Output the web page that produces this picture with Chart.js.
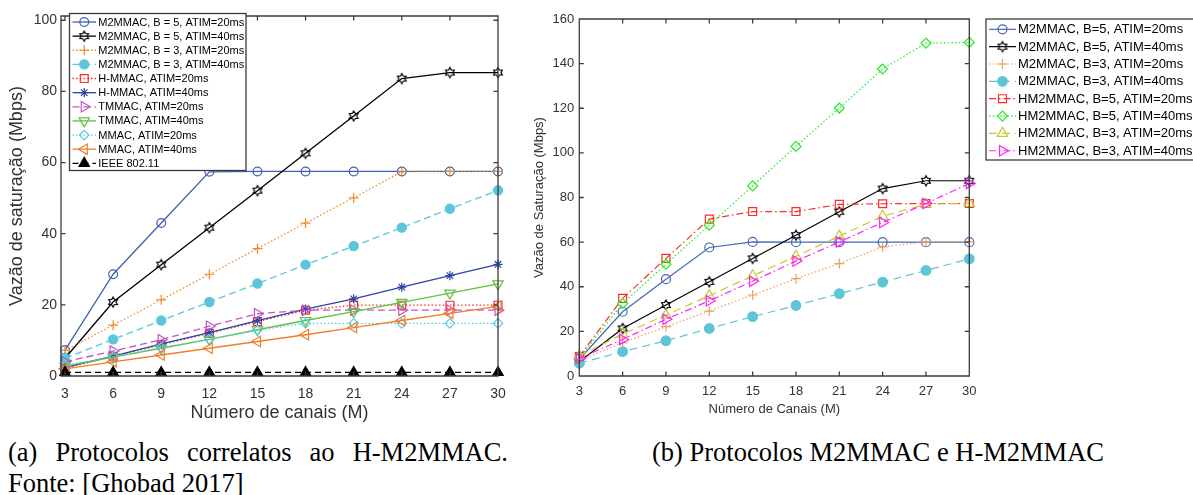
<!DOCTYPE html>
<html><head><meta charset="utf-8">
<script src="https://cdn.jsdelivr.net/npm/chart.js@4/dist/chart.umd.min.js"></script>
<style>
html,body{margin:0;padding:0;background:#fff;}
body{width:1193px;height:495px;overflow:hidden;position:relative;}
#ca{position:absolute;left:0;top:0;}
#cb{position:absolute;left:530px;top:0;}
.cap{position:absolute;font-family:"Liberation Serif","Times New Roman",serif;font-size:26.5px;line-height:31px;color:#000;white-space:nowrap;}
#capA1{left:8px;top:437px;width:500px;text-align:justify;text-align-last:justify;white-space:normal;}
#capA2{left:8px;top:468px;}
#capB{left:652px;top:437px;}
</style></head><body>
<canvas id="ca" width="530" height="430"></canvas>
<canvas id="cb" width="663" height="430"></canvas>
<div class="cap" id="capA1">(a) Protocolos correlatos ao H-M2MMAC.</div>
<div class="cap" id="capA2">Fonte: [Ghobad 2017]</div>
<div class="cap" id="capB">(b) Protocolos M2MMAC e H-M2MMAC</div>
<script>
// ---------- data ----------
const channels = [3, 6, 9, 12, 15, 18, 21, 24, 27, 30];
const xTickLabels = [3, 6, 9, 12, 15, 18, 21, 24, 27, 30];
const yTicksA = [0, 20, 40, 60, 80, 100];
const yTicksB = [0, 20, 40, 60, 80, 100, 120, 140, 160];

const labelsA = [
  'M2MMAC, B = 5, ATIM=20ms',
  'M2MMAC, B = 5, ATIM=40ms',
  'M2MMAC, B = 3, ATIM=20ms',
  'M2MMAC, B = 3, ATIM=40ms',
  'H-MMAC, ATIM=20ms',
  'H-MMAC, ATIM=40ms',
  'TMMAC, ATIM=20ms',
  'TMMAC, ATIM=40ms',
  'MMAC, ATIM=20ms',
  'MMAC, ATIM=40ms',
  'IEEE 802.11'
];
const aM2b5t20 = [7.3, 28.6, 43.0, 57.4, 57.5, 57.5, 57.5, 57.5, 57.5, 57.5];
const aM2b5t40 = [5.0, 20.8, 31.3, 41.7, 52.1, 62.6, 73.1, 83.6, 85.3, 85.3];
const aM2b3t20 = [7.2, 14.3, 21.4, 28.6, 35.8, 43.0, 50.1, 57.4, 57.5, 57.5];
const aM2b3t40 = [5.0, 10.3, 15.6, 20.8, 26.0, 31.3, 36.5, 41.7, 47.0, 52.2];
const aHt20    = [2.2, 5.5, 8.8, 12.0, 15.3, 18.5, 19.9, 19.9, 19.9, 19.9];
const aHt40    = [2.4, 5.6, 9.0, 12.2, 15.6, 18.8, 21.7, 25.0, 28.2, 31.4];
const aTt20    = [4.0, 7.0, 10.2, 14.0, 17.5, 18.5, 18.5, 18.5, 18.5, 18.5];
const aTt40    = [2.8, 5.3, 7.8, 10.3, 13.0, 15.6, 18.1, 20.7, 23.3, 25.9];
const aMt20    = [3.0, 5.4, 8.0, 10.3, 12.9, 14.8, 14.8, 14.8, 14.8, 14.8];
const aMt40    = [2.0, 4.0, 5.9, 7.8, 9.7, 11.6, 13.6, 15.6, 17.6, 19.6];
const aIEEE    = [1.0, 1.0, 1.0, 1.0, 1.0, 1.0, 1.0, 1.0, 1.0, 1.0];

const labelsB = [
  'M2MMAC, B=5, ATIM=20ms',
  'M2MMAC, B=5, ATIM=40ms',
  'M2MMAC, B=3, ATIM=20ms',
  'M2MMAC, B=3, ATIM=40ms',
  'HM2MMAC, B=5, ATIM=20ms',
  'HM2MMAC, B=5, ATIM=40ms',
  'HM2MMAC, B=3, ATIM=20ms',
  'HM2MMAC, B=3, ATIM=40ms'
];
const bM2b5t20 = [7.5, 28.8, 43.4, 57.6, 60.1, 60.0, 60.0, 60.0, 60.0, 60.0];
const bM2b5t40 = [6.4, 21.3, 31.8, 42.2, 52.7, 63.1, 73.6, 84.0, 87.5, 87.5];
const bM2b3t20 = [7.0, 14.9, 22.1, 29.1, 36.3, 43.6, 50.4, 57.9, 60.1, 60.1];
const bM2b3t40 = [5.7, 10.9, 15.8, 21.3, 26.6, 31.6, 36.9, 42.1, 47.3, 52.5];
const bH5t20   = [8.7, 34.8, 52.7, 70.3, 73.7, 73.7, 76.9, 77.2, 77.3, 77.3];
const bH5t40   = [8.0, 32.5, 50.1, 67.6, 85.2, 102.9, 120.1, 137.6, 149.2, 149.5];
const bH3t20   = [9.0, 18.8, 27.3, 36.0, 44.9, 53.7, 62.7, 71.6, 77.0, 77.3];
const bH3t40   = [7.9, 16.4, 25.4, 33.7, 42.5, 51.5, 60.1, 68.8, 77.3, 86.3];

// ---------- helpers ----------
Chart.defaults.font.family = "'Liberation Sans', Arial, Helvetica, sans-serif";
Chart.defaults.color = '#262626';

function hexagram(color, R) {
  const s = Math.ceil(2 * R + 4);
  const cv = document.createElement('canvas');
  cv.width = s; cv.height = s;
  const c = cv.getContext('2d');
  const cx = s / 2, cy = s / 2, ri = R / Math.sqrt(3);
  c.beginPath();
  for (let k = 0; k < 12; k++) {
    const a = k * Math.PI / 6 - Math.PI / 2;
    const rr = (k % 2 === 0) ? R : ri;
    const px = cx + rr * Math.cos(a), py = cy + rr * Math.sin(a);
    if (k === 0) c.moveTo(px, py); else c.lineTo(px, py);
  }
  c.closePath();
  c.strokeStyle = color; c.lineWidth = 1.2; c.stroke();
  return cv;
}

function pts(values) { return channels.map((x, i) => ({x: x, y: values[i]})); }

function ds(label, values, color, dash, style, r, rot, fill, lw, n, i) {
  return {
    label: label, data: pts(values),
    borderColor: color, borderWidth: lw, borderDash: dash,
    pointStyle: style, pointRadius: r, pointHoverRadius: r, pointRotation: rot || 0,
    pointBorderColor: color, pointBackgroundColor: fill || 'rgba(0,0,0,0)',
    pointBorderWidth: 1.2, tension: 0, fill: false, clip: false, order: n - i
  };
}

function drawMarker(c, d, x, y) {
  const st = d.pointStyle, r = d.pointRadius, rot = (d.pointRotation || 0) * Math.PI / 180;
  c.save();
  c.setLineDash([]);
  if (typeof st !== 'string') { c.drawImage(st, x - st.width / 2, y - st.height / 2); c.restore(); return; }
  c.strokeStyle = d.pointBorderColor; c.fillStyle = d.pointBackgroundColor; c.lineWidth = d.pointBorderWidth;
  c.beginPath();
  if (st === 'circle') c.arc(x, y, r, 0, 2 * Math.PI);
  else if (st === 'rect') { const s = r * Math.SQRT1_2; c.rect(x - s, y - s, 2 * s, 2 * s); }
  else if (st === 'rectRot') { c.moveTo(x - r, y); c.lineTo(x, y - r); c.lineTo(x + r, y); c.lineTo(x, y + r); c.closePath(); }
  else if (st === 'triangle') {
    let a = rot;
    c.moveTo(x + Math.sin(a) * r, y - Math.cos(a) * r);
    a += 2 * Math.PI / 3; c.lineTo(x + Math.sin(a) * r, y - Math.cos(a) * r);
    a += 2 * Math.PI / 3; c.lineTo(x + Math.sin(a) * r, y - Math.cos(a) * r);
    c.closePath();
  } else if (st === 'cross') { c.moveTo(x - r, y); c.lineTo(x + r, y); c.moveTo(x, y - r); c.lineTo(x, y + r); }
  else if (st === 'star') {
    c.moveTo(x - r, y); c.lineTo(x + r, y); c.moveTo(x, y - r); c.lineTo(x, y + r);
    const q = r * Math.SQRT1_2;
    c.moveTo(x - q, y - q); c.lineTo(x + q, y + q); c.moveTo(x + q, y - q); c.lineTo(x - q, y + q);
  }
  if (st !== 'cross' && st !== 'star') c.fill();
  c.stroke();
  c.restore();
}

const framePlugin = {
  id: 'frame',
  afterDatasetsDraw(chart, args, o) {
    const c = chart.ctx, a = chart.chartArea, xs = chart.scales.x, ys = chart.scales.y;
    c.save();
    c.strokeStyle = '#3c3c3c'; c.lineWidth = 1.3; c.setLineDash([]);
    c.beginPath();
    c.rect(a.left, a.top, a.right - a.left, a.bottom - a.top);
    const t = o.tick;
    xs.ticks.forEach(tk => {
      const px = xs.getPixelForValue(tk.value);
      c.moveTo(px, a.bottom); c.lineTo(px, a.bottom - t);
      c.moveTo(px, a.top); c.lineTo(px, a.top + t);
    });
    ys.ticks.forEach(tk => {
      const py = ys.getPixelForValue(tk.value);
      c.moveTo(a.left, py); c.lineTo(a.left + t, py);
      c.moveTo(a.right, py); c.lineTo(a.right - t, py);
    });
    c.stroke();
    c.restore();
  }
};

const legendPlugin = {
  id: 'boxLegend',
  afterDraw(chart, args, L) {
    const c = chart.ctx;
    c.save();
    c.fillStyle = '#fff';
    c.fillRect(L.x, L.y, L.w, L.h);
    c.strokeStyle = '#3c3c3c'; c.lineWidth = 1.3; c.setLineDash([]);
    c.strokeRect(L.x, L.y, L.w, L.h);
    chart.data.datasets.forEach((d, i) => {
      const y = L.row0 + i * L.rowH;
      c.save();
      c.strokeStyle = d.borderColor; c.lineWidth = d.borderWidth; c.setLineDash(d.borderDash || []);
      c.beginPath(); c.moveTo(L.lx1, y); c.lineTo(L.lx2, y); c.stroke();
      c.restore();
      drawMarker(c, d, (L.lx1 + L.lx2) / 2, y);
      c.fillStyle = '#000'; c.font = L.font; c.textBaseline = 'middle'; c.textAlign = 'left';
      c.fillText(d.label, L.tx, y + 0.5);
    });
    c.restore();
  }
};

function fixedTicks(list) { return function (scale) { scale.ticks = list.map(v => ({value: v})); }; }

// ---------- chart (a) ----------
const nA = 11;
const dotted = [1.5, 2.2], dashed = [7, 4], dashdot = [7, 3, 1.5, 3];
const datasetsA = [
  ds(labelsA[0], aM2b5t20, '#3f5fb0', [], 'circle', 4.4, 0, null, 1.3, nA, 0),
  ds(labelsA[1], aM2b5t40, '#000000', [], hexagram('#000000', 5.0), 5, 0, null, 1.3, nA, 1),
  ds(labelsA[2], aM2b3t20, '#f08a2a', dotted, 'cross', 5, 0, null, 1.3, nA, 2),
  ds(labelsA[3], aM2b3t40, '#5bc6da', dashed, 'circle', 4.6, 0, '#5bc6da', 1.3, nA, 3),
  ds(labelsA[4], aHt20, '#ff2a2a', dotted, 'rect', 5.6, 0, null, 1.3, nA, 4),
  ds(labelsA[5], aHt40, '#2a44a8', [], 'star', 4.6, 0, null, 1.3, nA, 5),
  ds(labelsA[6], aTt20, '#c455c4', dashed, 'triangle', 6, 90, null, 1.3, nA, 6),
  ds(labelsA[7], aTt40, '#5cc43c', [], 'triangle', 6, 180, null, 1.3, nA, 7),
  ds(labelsA[8], aMt20, '#5ccae6', dotted, 'rectRot', 4.8, 0, null, 1.3, nA, 8),
  ds(labelsA[9], aMt40, '#f07f2a', [], 'triangle', 6, 270, null, 1.3, nA, 9),
  ds(labelsA[10], aIEEE, '#000000', [6, 4], 'triangle', 6, 0, '#000000', 1.3, nA, 10)
];

new Chart(document.getElementById('ca'), {
  type: 'line',
  data: {datasets: datasetsA},
  options: {
    responsive: false, animation: false, events: [],
    layout: {padding: {left: 0, right: 32, top: 16, bottom: 0}},
    plugins: {legend: {display: false}, tooltip: {enabled: false},
      frame: {tick: 4.5},
      boxLegend: {x: 69.5, y: 13.5, w: 176.5, h: 157, row0: 22, rowH: 14.13, lx1: 72.5, lx2: 96, tx: 98.3,
        font: "11px 'Liberation Sans', Arial, sans-serif"}},
    scales: {
      x: {type: 'linear', min: 2.75, max: 30,
        afterBuildTicks: fixedTicks(xTickLabels),
        afterFit(s) { s.height = 54; },
        grid: {display: false, drawTicks: false}, border: {display: false},
        ticks: {padding: 10, font: {size: 14}, color: '#333', maxRotation: 0, autoSkip: false},
        title: {display: true, text: 'Número de canais (M)', font: {size: 18}, color: '#333', padding: {top: 0, bottom: 6}}},
      y: {type: 'linear', min: 0, max: 101.2,
        afterBuildTicks: fixedTicks(yTicksA),
        afterFit(s) { s.width = 61; },
        grid: {display: false, drawTicks: false}, border: {display: false},
        ticks: {padding: 4, font: {size: 14}, color: '#333'},
        title: {display: true, text: 'Vazão de saturação (Mbps)', font: {size: 18}, color: '#333', padding: {top: 6, bottom: 0}}}
    }
  },
  plugins: [framePlugin, legendPlugin]
});

// ---------- chart (b) ----------
const nB = 8;
const datasetsB = [
  ds(labelsB[0], bM2b5t20, '#4468b4', [], 'circle', 4.5, 0, null, 1.2, nB, 0),
  ds(labelsB[1], bM2b5t40, '#000000', [], hexagram('#000000', 5.0), 5, 0, null, 1.2, nB, 1),
  ds(labelsB[2], bM2b3t20, '#eea05e', dotted, 'cross', 5, 0, null, 1.2, nB, 2),
  ds(labelsB[3], bM2b3t40, '#5ec4d8', [8, 5], 'circle', 4.8, 0, '#5ec4d8', 1.2, nB, 3),
  ds(labelsB[4], bH5t20, '#ff2a2a', dashdot, 'rect', 5.6, 0, null, 1.2, nB, 4),
  ds(labelsB[5], bH5t40, '#22ee22', dotted, 'rectRot', 5, 0, null, 1.2, nB, 5),
  ds(labelsB[6], bH3t20, '#c8c832', [8, 5], 'triangle', 6, 0, null, 1.2, nB, 6),
  ds(labelsB[7], bH3t40, '#ff22ff', dashdot, 'triangle', 6, 90, null, 1.2, nB, 7)
];

new Chart(document.getElementById('cb'), {
  type: 'line',
  data: {datasets: datasetsB},
  options: {
    responsive: false, animation: false, events: [],
    layout: {padding: {left: 0, right: 223.7, top: 19, bottom: 0}},
    plugins: {legend: {display: false}, tooltip: {enabled: false},
      frame: {tick: 4.5},
      boxLegend: {x: 456, y: 19, w: 220, h: 141, row0: 29.3, rowH: 17.35, lx1: 459, lx2: 486, tx: 488,
        font: "13px 'Liberation Sans', Arial, sans-serif"}},
    scales: {
      x: {type: 'linear', min: 3, max: 30,
        afterBuildTicks: fixedTicks(xTickLabels),
        afterFit(s) { s.height = 54; },
        grid: {display: false, drawTicks: false}, border: {display: false},
        ticks: {padding: 8, font: {size: 13}, color: '#333', maxRotation: 0, autoSkip: false},
        title: {display: true, text: 'Número de Canais (M)', font: {size: 13}, color: '#333', padding: {top: 0, bottom: 13}}},
      y: {type: 'linear', min: 0, max: 160,
        afterBuildTicks: fixedTicks(yTicksB),
        afterFit(s) { s.width = 49.3; },
        grid: {display: false, drawTicks: false}, border: {display: false},
        ticks: {padding: 5, font: {size: 13}, color: '#333'},
        title: {display: true, text: 'Vazão de Saturação (Mbps)', font: {size: 13}, color: '#333', padding: {top: 2, bottom: 0}}}
    }
  },
  plugins: [framePlugin, legendPlugin]
});
</script>
</body></html>
